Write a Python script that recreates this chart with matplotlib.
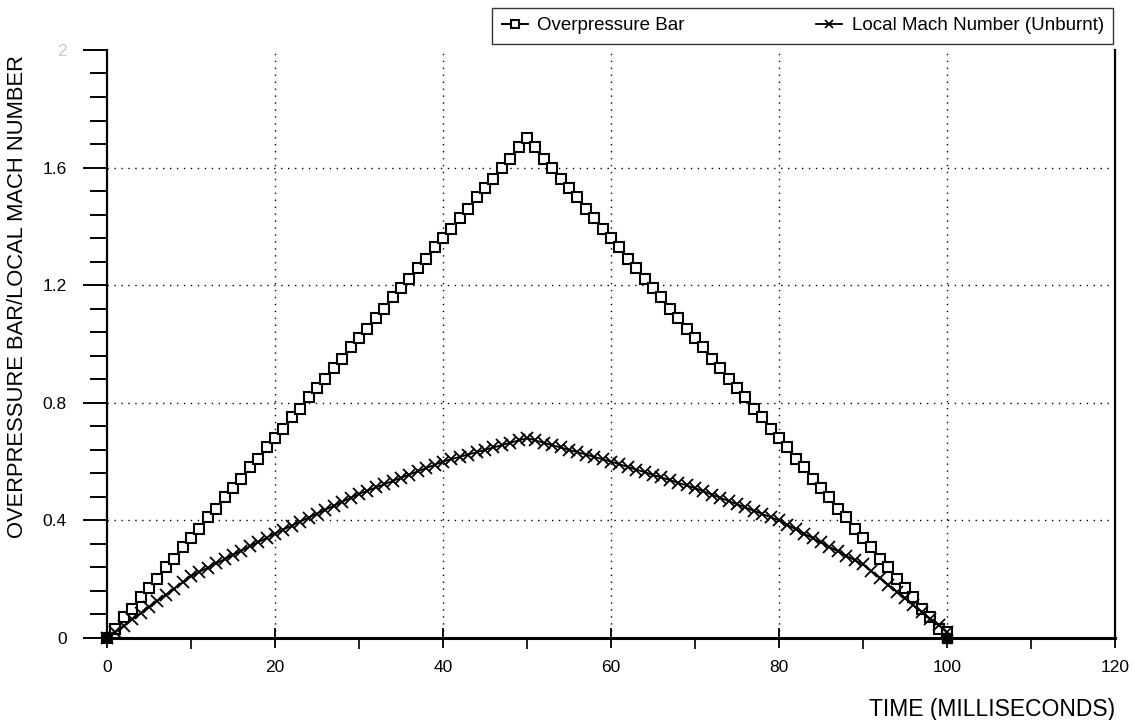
import matplotlib
matplotlib.use("Agg")
import matplotlib.pyplot as plt
from matplotlib.ticker import MultipleLocator

plt.rcParams['font.family'] = ['Liberation Sans', 'DejaVu Sans']

# time axis, one reading per millisecond
time_ms = list(range(0, 101))

# overpressure (bar)
overpressure = [
    0.00, 0.03, 0.07, 0.10, 0.14, 0.17, 0.20, 0.24, 0.27, 0.31,
    0.34, 0.37, 0.41, 0.44, 0.48, 0.51, 0.54, 0.58, 0.61, 0.65,
    0.68, 0.71, 0.75, 0.78, 0.82, 0.85, 0.88, 0.92, 0.95, 0.99,
    1.02, 1.05, 1.09, 1.12, 1.16, 1.19, 1.22, 1.26, 1.29, 1.33,
    1.36, 1.39, 1.43, 1.46, 1.50, 1.53, 1.56, 1.60, 1.63, 1.67,
    1.70,
    1.67, 1.63, 1.60, 1.56, 1.53, 1.50, 1.46, 1.43, 1.39, 1.36,
    1.33, 1.29, 1.26, 1.22, 1.19, 1.16, 1.12, 1.09, 1.05, 1.02,
    0.99, 0.95, 0.92, 0.88, 0.85, 0.82, 0.78, 0.75, 0.71, 0.68,
    0.65, 0.61, 0.58, 0.54, 0.51, 0.48, 0.44, 0.41, 0.37, 0.34,
    0.31, 0.27, 0.24, 0.20, 0.17, 0.14, 0.10, 0.07, 0.03, 0.02,
]

# local mach number (unburnt)
mach = [
    0.000, 0.021, 0.042, 0.063, 0.084, 0.105, 0.126, 0.147, 0.168, 0.189,
    0.210, 0.225, 0.239, 0.254, 0.268, 0.283, 0.297, 0.312, 0.326, 0.341,
    0.355, 0.369, 0.382, 0.396, 0.409, 0.423, 0.436, 0.450, 0.463, 0.477,
    0.490, 0.501, 0.512, 0.523, 0.534, 0.545, 0.556, 0.567, 0.578, 0.589,
    0.600, 0.608, 0.616, 0.624, 0.632, 0.640, 0.648, 0.656, 0.664, 0.672,
    0.680,
    0.672, 0.664, 0.656, 0.648, 0.640, 0.632, 0.624, 0.616, 0.608, 0.600,
    0.591, 0.582, 0.573, 0.564, 0.555, 0.546, 0.537, 0.528, 0.519, 0.510,
    0.499, 0.488, 0.477, 0.466, 0.455, 0.444, 0.433, 0.422, 0.411, 0.400,
    0.385, 0.370, 0.355, 0.340, 0.325, 0.310, 0.295, 0.280, 0.265, 0.250,
    0.227, 0.204, 0.181, 0.158, 0.135, 0.112, 0.089, 0.066, 0.043, 0.020,
]

xticks = [0, 20, 40, 60, 80, 100, 120]
yticks = [0, 0.4, 0.8, 1.2, 1.6, 2.0]
ytick_labels = ['0', '0.4', '0.8', '1.2', '1.6', '2']

fig = plt.figure(figsize=(11.35, 7.2), dpi=100)
ax = fig.add_axes([0.0943, 0.1139, 0.888, 0.8167])

ax.plot(time_ms, overpressure, color='black', lw=1.4, marker='s', ms=7.8,
        mfc='white', mec='black', mew=1.5, label='Overpressure Bar',
        clip_on=False, zorder=3)
ax.plot(time_ms, mach, color='black', lw=1.3, marker='x', ms=8, mew=1.3,
        label='Local Mach Number (Unburnt)', clip_on=False, zorder=3)
# solid end markers at start and end of the pulse
ax.plot([time_ms[0]], [overpressure[0]], 'o', color='black', ms=7, clip_on=False, zorder=4)
ax.plot([time_ms[-1]], [0], 's', color='black', ms=6.5, clip_on=False, zorder=4)

ax.set_xlim(0, 120)
ax.set_ylim(0, 2.0)
ax.set_xticks(xticks)
ax.set_yticks(yticks, ytick_labels)
ax.get_yticklabels()[-1].set_color('#c8c8c8')
ax.xaxis.set_minor_locator(MultipleLocator(10))
ax.yaxis.set_minor_locator(MultipleLocator(0.08))

ax.tick_params(axis='x', which='major', direction='inout', length=14, width=1.3,
               labelsize=12.5, pad=9)
ax.tick_params(axis='x', which='minor', direction='out', length=8, width=1.2)
ax.tick_params(axis='y', which='major', direction='out', length=17, width=1.4,
               labelsize=12.5, pad=12)
ax.tick_params(axis='y', which='minor', direction='out', length=12, width=1.4)

# dotted grid, no line along the top edge
for v in xticks[1:-1]:
    ax.axvline(v, color='black', lw=1.0, ls=(0, (1, 4)), zorder=1)
for v in yticks[1:-1]:
    ax.axhline(v, color='black', lw=1.0, ls=(0, (1, 4)), zorder=1)

ax.spines['top'].set_visible(False)
ax.spines['left'].set_linewidth(1.6)
ax.spines['right'].set_linewidth(1.6)
ax.spines['bottom'].set_linewidth(2.2)

ax.set_ylabel('OVERPRESSURE BAR/LOCAL MACH NUMBER', fontsize=15.8)
ax.yaxis.set_label_coords(-0.078, 0.58)
ax.set_xlabel('TIME (MILLISECONDS)', fontsize=16.5, ha='right')
ax.xaxis.set_label_coords(1.0, -0.102)

leg = fig.legend(loc='upper right', bbox_to_anchor=(1113 / 1135, 1 - 8 / 720),
                 ncol=2, fancybox=False, edgecolor='black', fontsize=13.5,
                 handlelength=1.4, handletextpad=0.5, columnspacing=7.0,
                 borderpad=0.5, borderaxespad=0, markerscale=0.8)
leg.get_frame().set_linewidth(1.0)

fig.savefig('out.png', dpi=100)
